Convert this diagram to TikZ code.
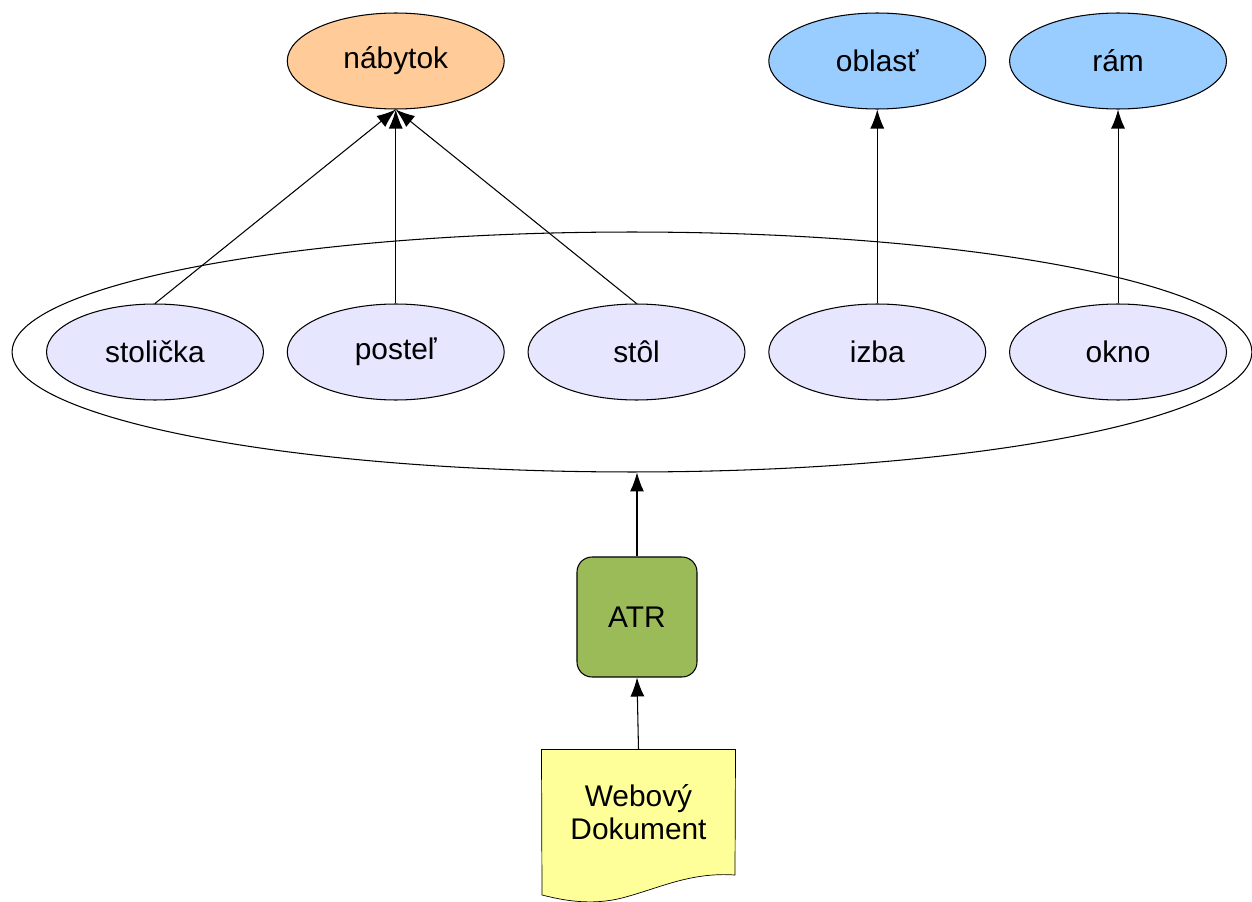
\documentclass[tikz,border=0pt]{standalone}
\usepackage{fontspec}
\setmainfont{Liberation Sans}
\usepackage{xcolor}
\usetikzlibrary{shapes.geometric, arrows.meta, positioning, backgrounds}

\definecolor{peach}{HTML}{FFCC99}
\definecolor{skyblue}{HTML}{99CCFF}
\definecolor{lavender}{HTML}{E6E6FF}
\definecolor{olive}{HTML}{9BBB59}
\definecolor{paleyellow}{HTML}{FFFF99}

\begin{document}
\begin{tikzpicture}[
            x=0.02cm, y=-0.02cm,
            font=\fontsize{17pt}{18.4pt}\selectfont,
            line width=0.6pt,
            concept/.style={ellipse, draw, inner sep=0pt, minimum width=4.34cm, minimum height=1.92cm},
            term/.style={concept, fill=lavender},
            link/.style={-{Latex[length=3.8mm, width=2.8mm]}}
        ]
        \useasboundingbox (0,0) rectangle (1252,902);

        % group of terms
        \node[ellipse, draw, minimum width=24.8cm, minimum height=4.8cm] (group) at (632,352) {};
        \node[term] (stolicka) at (155,352) {stolička};
        \node[term, right=0.455cm of stolicka] (postel) {posteľ};
        \node[term, right=0.455cm of postel] (stol) {stôl};
        \node[term, right=0.455cm of stol] (izba) {izba};
        \node[term, right=0.455cm of izba] (okno) {okno};

        % concepts
        \node[concept, fill=peach, above=3.88cm of postel] (nabytok) {nábytok};
        \node[concept, fill=skyblue, above=3.88cm of izba] (oblast) {oblasť};
        \node[concept, fill=skyblue, above=3.88cm of okno] (ram) {rám};

        % analyser and document
        \node[draw, rectangle, rounded corners=0.3cm, fill=olive, minimum width=2.4cm, minimum height=2.4cm] (atr) at (637,617) {ATR};
        \node[rectangle, align=center, minimum width=3.86cm, minimum height=2.48cm] (doc) at (638.5,812) {Webový\\Dokument};
        \begin{scope}[on background layer]
            \draw[fill=paleyellow] (doc.north west) -- (doc.north east) -- (735,875)
                .. controls (690,872) and (660,888) .. (622,898)
                .. controls (590,906) and (562,900) .. (542,895) -- cycle;
        \end{scope}

        % Transitions
        \draw[link] (stolicka.north) -- (nabytok.south);
        \draw[link] (postel.north) -- (nabytok.south);
        \draw[link] (stol.north) -- (nabytok.south);
        \draw[link] (izba.north) -- (oblast.south);
        \draw[link] (okno.north) -- (ram.south);
        \draw[link] (atr.north) -- (atr.north |- group.south);
        \draw[link] (doc.north) -- (atr.south);
    \end{tikzpicture}
\end{document}
